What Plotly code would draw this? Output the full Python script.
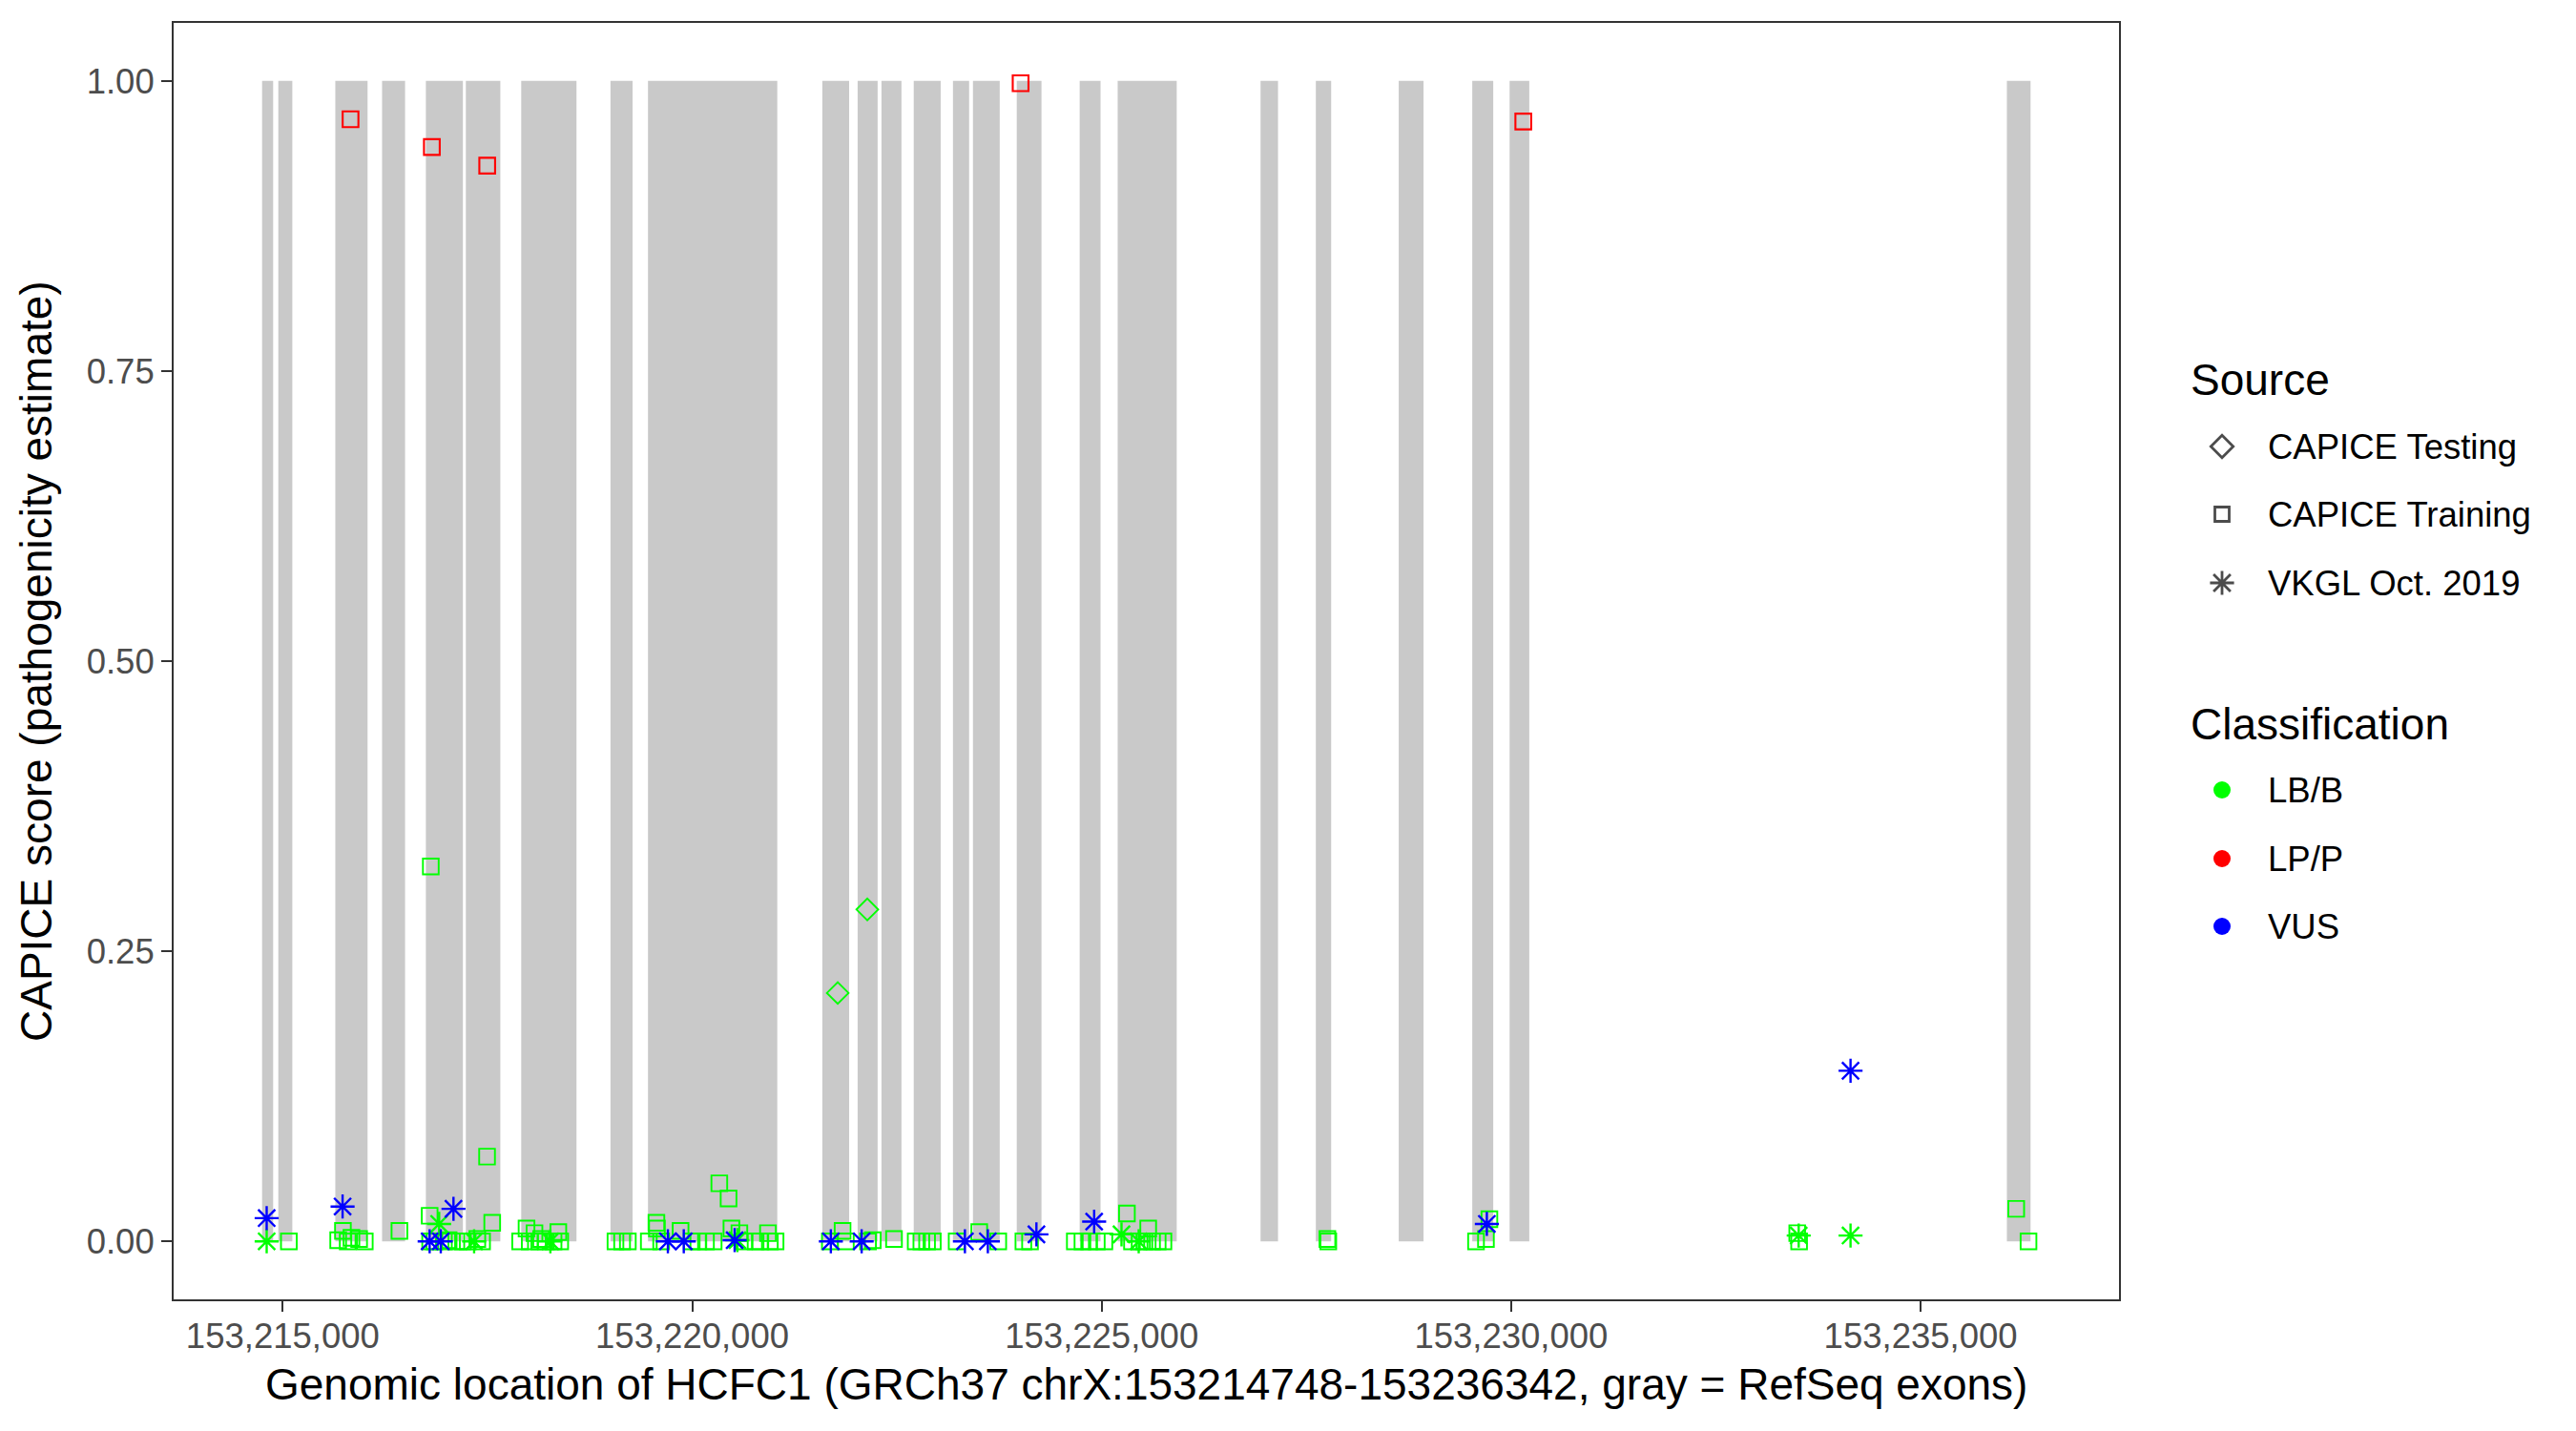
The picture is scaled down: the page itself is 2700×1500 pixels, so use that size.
import plotly.graph_objects as go

# ---------------- data ----------------
exon_start = [153214748, 153214946, 153215642, 153216213, 153216748, 153217236, 153217912,
              153219002, 153219460, 153221589, 153222020, 153222311, 153222705, 153223184,
              153223428, 153223963, 153224731, 153225195, 153226940, 153227615, 153228627,
              153229525, 153229981, 153236053]
exon_end = [153214883, 153215117, 153216036, 153216494, 153217200, 153217657, 153218587,
            153219272, 153221039, 153221916, 153222264, 153222555, 153223034, 153223381,
            153223755, 153224265, 153224986, 153225916, 153227153, 153227802, 153228930,
            153229781, 153230221, 153236342]

# CAPICE Training, LB/B
lbb_train_pos = [153215075, 153215677, 153215735, 153215793, 153215839, 153215933, 153216002,
                 153216425, 153216794, 153216800, 153216808, 153216852, 153216968, 153217026,
                 153217120, 153217201, 153217259, 153217376, 153217434, 153217495, 153217558,
                 153217899, 153217977, 153218016, 153218074, 153218132, 153218155, 153218213,
                 153218307, 153218365, 153218388, 153219063, 153219144, 153219214, 153219470,
                 153219563, 153219569, 153219621, 153219858, 153219994, 153220075, 153220168,
                 153220262, 153220331, 153220444, 153220479, 153220576, 153220634, 153220774,
                 153220832, 153220925, 153220948, 153221018, 153221681, 153221836, 153221876,
                 153222147, 153222205, 153222464, 153222729, 153222798, 153222868, 153222938,
                 153223229, 153223505, 153223737, 153224044, 153224125, 153224672, 153224765,
                 153224847, 153224940, 153225033, 153225308, 153225370, 153225463, 153225521,
                 153225568, 153225615, 153225684, 153225754, 153227756, 153227767, 153229571,
                 153229692, 153229734, 153233493, 153233516, 153236167, 153236317]
lbb_train_score = [0.000, 0.001, 0.009, 0.000, 0.003, 0.002, 0.000,
                   0.009, 0.022, 0.000, 0.323, 0.000, 0.000, 0.001,
                   0.000, 0.000, 0.000, 0.002, 0.000, 0.073, 0.016,
                   0.000, 0.011, 0.000, 0.007, 0.000, 0.002, 0.000,
                   0.000, 0.008, 0.000, 0.000, 0.000, 0.000, 0.000,
                   0.016, 0.011, 0.000, 0.009, 0.000, 0.000, 0.000,
                   0.000, 0.050, 0.037, 0.011, 0.007, 0.000, 0.000,
                   0.000, 0.007, 0.000, 0.000, 0.000, 0.009, 0.000,
                   0.000, 0.001, 0.002, 0.000, 0.000, 0.000, 0.000,
                   0.000, 0.008, 0.000, 0.000, 0.000, 0.000, 0.000,
                   0.000, 0.000, 0.000, 0.024, 0.000, 0.000, 0.000,
                   0.011, 0.000, 0.000, 0.000, 0.002, 0.000, 0.000,
                   0.002, 0.019, 0.007, 0.000, 0.028, 0.000]

# CAPICE Testing, LB/B
lbb_test_pos = [153221777, 153222138]
lbb_test_score = [0.214, 0.286]

# VKGL Oct. 2019, LB/B
lbb_vkgl_pos = [153214804, 153216910, 153217337, 153218268, 153220552, 153225242, 153225452,
                153233511, 153234144]
lbb_vkgl_score = [0.000, 0.015, 0.000, 0.000, 0.001, 0.006, 0.000, 0.005, 0.005]

# CAPICE Training, LP/P
lpp_train_pos = [153215828, 153216821, 153217497, 153224010, 153230148]
lpp_train_score = [0.967, 0.943, 0.927, 0.998, 0.965]

# VKGL Oct. 2019, VUS
vus_vkgl_pos = [153214804, 153215731, 153216794, 153216930, 153217085, 153219703, 153219897,
                153220518, 153221693, 153222069, 153223330, 153223610, 153224203, 153224908,
                153229703, 153234144]
vus_vkgl_score = [0.020, 0.030, 0.000, 0.000, 0.028, 0.000, 0.000,
                  0.001, 0.000, 0.000, 0.000, 0.000, 0.006, 0.017,
                  0.015, 0.147]

x_ticks = [153215000, 153220000, 153225000, 153230000, 153235000]
y_ticks = [0.0, 0.25, 0.5, 0.75, 1.0]

source_labels = ["CAPICE Testing", "CAPICE Training", "VKGL Oct. 2019"]
class_labels = ["LB/B", "LP/P", "VUS"]
class_colors = ["#00FF00", "#FF0000", "#0000FF"]

# ---------------- figure ----------------
FONT = "Liberation Sans, Arial, Helvetica, sans-serif"
W, H = 2700, 1500
ML, MT, MB = 182, 24, 138
PANEL_R = 2221
PANEL_B = H - MB
dom_r = (PANEL_R - ML) / (W - ML)
TITLE_SIZE = 46
TEXT_SIZE = 36.5

fig = go.Figure()

for s, e in zip(exon_start, exon_end):
    fig.add_shape(type="rect", xref="x", yref="y", x0=s, x1=e, y0=0, y1=1,
                  fillcolor="#C9C9C9", line=dict(width=0), layer="below")

SQ, DI, AS = 16.5, 17.5, 21


def add_pts(xs, ys, symbol, color, size, lw):
    fig.add_trace(go.Scatter(x=xs, y=ys, mode="markers", showlegend=False,
                             marker=dict(symbol=symbol, color=color, size=size,
                                         line=dict(width=lw, color=color)),
                             xaxis="x", yaxis="y", hoverinfo="x+y"))


add_pts(lbb_train_pos, lbb_train_score, "square-open", class_colors[0], SQ, 1.9)
add_pts(lbb_test_pos, lbb_test_score, "diamond-open", class_colors[0], DI, 1.9)
add_pts(lbb_vkgl_pos, lbb_vkgl_score, "asterisk-open", class_colors[0], AS, 2.4)
add_pts(lpp_train_pos, lpp_train_score, "square-open", class_colors[1], SQ, 2.1)
add_pts(vus_vkgl_pos, vus_vkgl_score, "asterisk-open", class_colors[2], AS, 2.4)

# ---------------- manual legend (on a hidden pixel-scaled axis) ----------------
leg_sym_x = 2329
leg_txt_x = 2375
leg_title_x = 2294
src_rows = [468, 539, 611]
cls_rows = [828, 900, 971]

fig.add_trace(go.Scatter(
    x=[leg_sym_x] * 3, y=src_rows, mode="markers", showlegend=False, hoverinfo="skip",
    marker=dict(symbol=["diamond-open", "square-open", "asterisk-open"], color="black",
                size=[18, 15, 21], line=dict(width=2.8, color="black")),
    xaxis="x2", yaxis="y2"))
fig.add_trace(go.Scatter(
    x=[leg_sym_x] * 3, y=cls_rows, mode="markers", showlegend=False, hoverinfo="skip",
    marker=dict(symbol="circle", color=class_colors, size=18, line=dict(width=0)),
    xaxis="x2", yaxis="y2"))

annotations = []
annotations.append(dict(text="Source", x=leg_title_x, y=398, xref="x2", yref="y2",
                        xanchor="left", yanchor="middle", showarrow=False,
                        font=dict(family=FONT, size=TITLE_SIZE, color="black")))
annotations.append(dict(text="Classification", x=leg_title_x, y=759, xref="x2", yref="y2",
                        xanchor="left", yanchor="middle", showarrow=False,
                        font=dict(family=FONT, size=TITLE_SIZE, color="black")))
for lab, yy in zip(source_labels, src_rows):
    annotations.append(dict(text=lab, x=leg_txt_x, y=yy, xref="x2", yref="y2",
                            xanchor="left", yanchor="middle", showarrow=False,
                            font=dict(family=FONT, size=TEXT_SIZE, color="black")))
for lab, yy in zip(class_labels, cls_rows):
    annotations.append(dict(text=lab, x=leg_txt_x, y=yy, xref="x2", yref="y2",
                            xanchor="left", yanchor="middle", showarrow=False,
                            font=dict(family=FONT, size=TEXT_SIZE, color="black")))

# axis titles
annotations.append(dict(
    text="Genomic location of HCFC1 (GRCh37 chrX:153214748-153236342, gray = RefSeq exons)",
    x=0.5, y=(PANEL_B - 1451) / (PANEL_B - MT), xref="x domain", yref="paper",
    xanchor="center", yanchor="middle",
    showarrow=False, font=dict(family=FONT, size=TITLE_SIZE, color="black")))
annotations.append(dict(
    text="CAPICE score (pathogenicity estimate)",
    x=(38 - ML) / (W - ML), y=0.5, xref="paper", yref="y domain", xanchor="center",
    yanchor="middle", textangle=-90, showarrow=False,
    font=dict(family=FONT, size=TITLE_SIZE, color="black")))

axis_common = dict(showgrid=False, zeroline=False, showline=True, mirror=True,
                   linecolor="#333333", linewidth=2, ticks="outside", ticklen=11,
                   tickwidth=2, tickcolor="#333333",
                   tickfont=dict(family=FONT, size=TEXT_SIZE, color="#4D4D4D"))

fig.update_layout(
    width=W, height=H,
    margin=dict(l=ML, r=0, t=MT, b=MB, pad=0),
    paper_bgcolor="white", plot_bgcolor="white",
    showlegend=False,
    font=dict(family=FONT),
    xaxis=dict(domain=[0, dom_r], range=[153213668, 153237422], tickvals=x_ticks,
               tickformat=",d", anchor="y", ticklabelstandoff=-6, **axis_common),
    yaxis=dict(domain=[0, 1], range=[-0.05, 1.05], tickvals=y_ticks, tickformat=".2f",
               anchor="x", **axis_common),
    xaxis2=dict(domain=[dom_r, 1], range=[PANEL_R, W], visible=False, anchor="y2",
                fixedrange=True),
    yaxis2=dict(domain=[0, 1], range=[PANEL_B, MT], visible=False, anchor="x2",
                fixedrange=True),
    annotations=annotations,
)

fig.write_html("out.html", config={"displayModeBar": False},
               post_script="document.body.style.margin='0';document.body.style.padding='0';")
